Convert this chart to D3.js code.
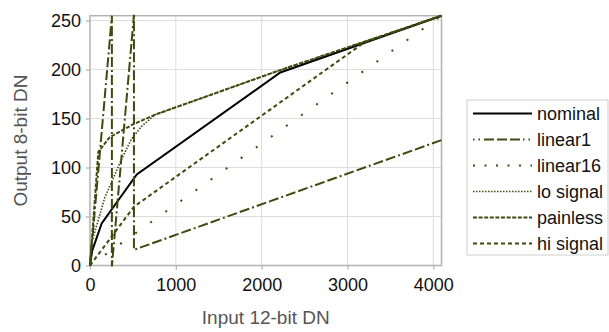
<!DOCTYPE html>
<html>
<head>
<meta charset="utf-8">
<script src="https://cdn.jsdelivr.net/npm/d3@7"></script>
<style>
  body { margin: 0; background: #fff; }
  svg { display: block; font-family: "Liberation Sans", Arial, sans-serif; }
</style>
</head>
<body>
<svg id="chart" width="609" height="332"></svg>
<script>
// companding curves, 12-bit input -> 8-bit output
const seriesNames = ['nominal', 'linear1', 'linear16', 'lo signal', 'painless', 'hi signal'];

const nominalX = [0, 25, 136, 545, 2217, 4095];
const nominalY = [0, 15, 43, 93, 197, 255];

const linear1X = [0, 255, 255, 256, 511, 512, 512, 4095];
const linear1Y = [0, 255, 0, 0, 255, 255, 16, 128];

const linear16X = [0, 4095];
const linear16Y = [0, 255];

const loSignalX = [0, 15, 171, 365, 482, 600, 760, 2217, 4095];
const loSignalY = [0, 22, 69, 108, 129, 142, 154, 199.5, 255];

const painlessX = [0, 97, 230, 500, 760, 2217, 4095];
const painlessY = [0, 116, 131, 144, 154, 199.5, 255];

const hiSignalX = [0, 512, 3200, 4095];
const hiSignalY = [0, 60, 228, 255];

const xTicks = [0, 1000, 2000, 3000, 4000];
const yTicks = [0, 50, 100, 150, 200, 250];

const olive = '#3b4c0e';
const styles = [
    { color: '#000', width: 2, dash: null, legendDash: null },
    { color: olive, width: 2, dash: '10,3,10,3,2,3', legendDash: '1.5,4,1.5,4,10,3,10,3,10,3,1.5,4' },
    { color: olive, width: 2, dash: '2,16.5', legendDash: '2,9.5' },
    { color: olive, width: 1.6, dash: '1.5,1.5', legendDash: '1.5,1.5' },
    { color: olive, width: 2, dash: '4,1.6', legendDash: '4,1.6' },
    { color: olive, width: 2, dash: '4,3', legendDash: '4,3' }
];

const series = [
    [nominalX, nominalY],
    [linear1X, linear1Y],
    [linear16X, linear16Y],
    [loSignalX, loSignalY],
    [painlessX, painlessY],
    [hiSignalX, hiSignalY]
].map(([xs, ys]) => xs.map((x, i) => [x, ys[i]]));

const size = { left: 90, right: 441.5, top: 15.7, bottom: 265.5 };

const svg = d3.select('#chart');

const x = d3.scaleLinear().domain([0, 4095]).range([size.left, size.right]);
const y = d3.scaleLinear().domain([0, 255]).range([size.bottom, size.top]);

// grid
const grid = svg.append('g');
grid.selectAll('.vgrid')
    .data(xTicks.slice(1))
    .enter()
    .append('line')
    .attr('x1', d => x(d)).attr('x2', d => x(d))
    .attr('y1', size.top).attr('y2', size.bottom)
    .attr('stroke', '#dcdcdc').attr('stroke-width', 1);
grid.selectAll('.hgrid')
    .data(yTicks.slice(1))
    .enter()
    .append('line')
    .attr('x1', size.left).attr('x2', size.right)
    .attr('y1', d => y(d)).attr('y2', d => y(d))
    .attr('stroke', '#dcdcdc').attr('stroke-width', 1);

// axes
const xAxis = svg.append('g')
    .attr('transform', `translate(0, ${size.bottom})`)
    .call(d3.axisBottom(x).tickValues(xTicks).tickFormat(d3.format('d')).tickSize(4).tickPadding(4));
const yAxis = svg.append('g')
    .attr('transform', `translate(${size.left}, 0)`)
    .call(d3.axisLeft(y).tickValues(yTicks).tickFormat(d3.format('d')).tickSize(4).tickPadding(5));

[xAxis, yAxis].forEach(a => {
    a.select('.domain').remove();
    a.selectAll('line').attr('stroke', '#b3b3b3').attr('stroke-width', 1.3);
    a.selectAll('text')
        .attr('fill', '#111')
        .style('font-size', '18px')
        .style('font-family', '"Liberation Sans", Arial, sans-serif');
});
xAxis.selectAll('text').attr('dy', '0.95em');

// frame
svg.append('rect')
    .attr('x', size.left).attr('y', size.top)
    .attr('width', size.right - size.left)
    .attr('height', size.bottom - size.top)
    .attr('fill', 'none')
    .attr('stroke', '#b3b3b3')
    .attr('stroke-width', 1.5);

// curves
const line = d3.line().x(d => x(d[0])).y(d => y(d[1]));
svg.append('g')
    .selectAll('path')
    .data(series)
    .enter()
    .append('path')
    .attr('d', line)
    .attr('fill', 'none')
    .attr('stroke', (d, i) => styles[i].color)
    .attr('stroke-width', (d, i) => styles[i].width)
    .attr('stroke-dasharray', (d, i) => styles[i].dash);

// axis titles
svg.append('text')
    .attr('x', (size.left + size.right) / 2)
    .attr('y', 324)
    .attr('text-anchor', 'middle')
    .attr('fill', '#555')
    .style('font-size', '19px')
    .text('Input 12-bit DN');

svg.append('text')
    .attr('transform', `translate(27, ${(size.top + size.bottom) / 2}) rotate(-90)`)
    .attr('text-anchor', 'middle')
    .attr('fill', '#555')
    .style('font-size', '19px')
    .text('Output 8-bit DN');

// legend
const legend = svg.append('g').attr('transform', 'translate(467, 100)');
legend.append('rect')
    .attr('width', 141).attr('height', 155)
    .attr('fill', '#fff')
    .attr('stroke', '#cfcfcf')
    .attr('stroke-width', 1);

const rows = legend.selectAll('.row')
    .data(seriesNames)
    .enter()
    .append('g')
    .attr('transform', (d, i) => `translate(0, ${13.5 + i * 26})`);
rows.append('line')
    .attr('x1', 6).attr('x2', 65)
    .attr('stroke', (d, i) => styles[i].color)
    .attr('stroke-width', (d, i) => styles[i].width)
    .attr('stroke-dasharray', (d, i) => styles[i].legendDash);
rows.append('text')
    .attr('x', 70)
    .attr('dy', '0.35em')
    .attr('fill', '#111')
    .style('font-size', '18px')
    .text(d => d);
</script>
</body>
</html>
